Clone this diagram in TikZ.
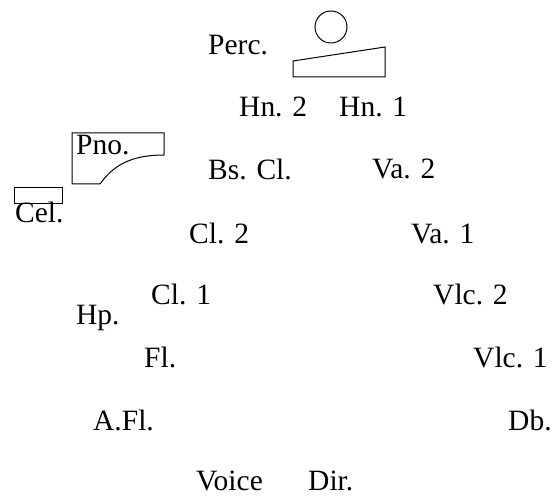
\documentclass[tikz,border=0pt]{standalone}
\usepackage{fontspec}
\setmainfont{Liberation Serif}
\begin{document}
\begin{tikzpicture}[x=1pt,y=1pt,
  lbl/.style={anchor=base west,inner sep=0pt,font=\fontsize{29.5}{31}\selectfont},
  shp/.style={draw=black,line width=1pt}]
\useasboundingbox (0,0) rectangle (555,-497);
% shapes
\draw[shp] (331,-27) circle (16);
\draw[shp] (293,-77) -- (293,-61) -- (385,-47) -- (385,-77) -- cycle;
\draw[shp] (72,-133) -- (164,-133) -- (164,-155) .. controls (130,-155) and (113,-166) .. (100,-184) -- (72,-184) -- cycle;
\draw[shp] (14,-188) rectangle (62,-204);
% labels
\node[lbl] (perc) at (208,-55) {Perc.};
\node[lbl] (hn2) at (239,-117) {Hn. 2};
\node[lbl] (hn1) at (339,-117) {Hn. 1};
\node[lbl] (pno) at (76,-155) {Pno.};
\node[lbl] (bscl) at (208,-180) {Bs. Cl.};
\node[lbl] (va2) at (372,-179) {Va. 2};
\node[lbl] (cel) at (15,-223) {Cel.};
\node[lbl] (cl2) at (189,-244) {Cl. 2};
\node[lbl] (va1) at (411,-244) {Va. 1};
\node[lbl] (cl1) at (151,-305) {Cl. 1};
\node[lbl] (vlc2) at (433,-305) {Vlc. 2};
\node[lbl] (hp) at (76,-325) {Hp.};
\node[lbl] (fl) at (144,-368) {Fl.};
\node[lbl] (vlc1) at (473,-368) {Vlc. 1};
\node[lbl] (afl) at (93,-431) {A.Fl.};
\node[lbl] (db) at (508,-431) {Db.};
\node[lbl] (voice) at (196,-490) {Voice};
\node[lbl] (dir) at (308,-490) {Dir.};
\end{tikzpicture}
\end{document}
